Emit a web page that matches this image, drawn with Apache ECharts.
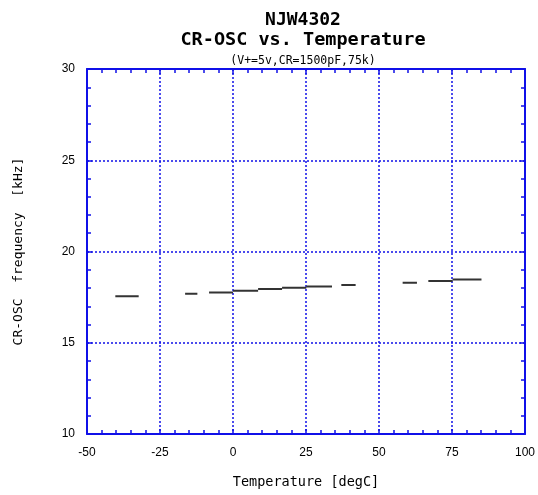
<!DOCTYPE html>
<html><head><meta charset="utf-8">
<script src="https://cdn.jsdelivr.net/npm/echarts@6/dist/echarts.min.js"></script>
<style>html,body{margin:0;padding:0;background:#fff}#c{width:538px;height:495px}</style>
</head><body><div id="c"></div>
<script>
// Measured segments (temperature start/end in degC, frequency in kHz)
var segStart = [-40.3, -16.4, -8.2, 0.0, 8.6, 16.8, 25.1, 37.1, 58.1, 66.9, 75.2];
var segEnd   = [-32.3, -12.2, 0.0, 8.6, 16.8, 25.1, 33.9, 42.0, 63.0, 75.2, 85.1];
var segFreq  = [17.55, 17.69, 17.76, 17.85, 17.95, 18.02, 18.08, 18.16, 18.29, 18.38, 18.46];
var xTicks = [-50, -25, 0, 25, 50, 75, 100];
var yTicks = [10, 15, 20, 25, 30];

var data = [];
for (var i = 0; i < segStart.length; i++) {
  if (i > 0) data.push([null, null]);
  data.push([segStart[i], segFreq[i]]);
  data.push([segEnd[i], segFreq[i]]);
}
var blue = '#1010e8';
var mono = '"DejaVu Sans Mono", monospace';
function axisCommon(showLabel, showSplit) {
  return {
    axisLine: {show: true, onZero: false, lineStyle: {color: blue, width: 2}},
    axisTick: {show: true, inside: true, length: 5, lineStyle: {color: blue, width: 1.5}},
    minorTick: {show: true, splitNumber: 5, length: 4, lineStyle: {color: blue, width: 1.5}},
    splitLine: {show: showSplit, lineStyle: {color: blue, type: [2, 2], width: 1.5}},
    axisLabel: {show: showLabel, color: '#000', fontSize: 12, fontFamily: 'Liberation Sans, Arial, sans-serif'}
  };
}
var x0 = Object.assign({type: 'value', min: xTicks[0], max: xTicks[xTicks.length-1], interval: 25, position: 'bottom',
  name: 'Temperature [degC]', nameLocation: 'middle', nameGap: 41,
  nameTextStyle: {fontFamily: mono, fontSize: 13.5, color: '#000'}}, axisCommon(true, true));
x0.axisLabel.margin = 13;
var x1 = Object.assign({type: 'value', min: xTicks[0], max: xTicks[xTicks.length-1], interval: 25, position: 'top'}, axisCommon(false, false));
var y0 = Object.assign({type: 'value', min: yTicks[0], max: yTicks[yTicks.length-1], interval: 5, position: 'left',
  name: 'CR-OSC  frequency  [kHz]', nameLocation: 'middle', nameGap: 62, nameRotate: 90,
  nameTextStyle: {fontFamily: mono, fontSize: 13, color: '#000'}}, axisCommon(true, true));
y0.axisLabel.margin = 12;
var y1 = Object.assign({type: 'value', min: yTicks[0], max: yTicks[yTicks.length-1], interval: 5, position: 'right'}, axisCommon(false, false));

var chart = echarts.init(document.getElementById('c'), null, {renderer: 'canvas'});
chart.setOption({
  animation: false,
  backgroundColor: '#fff',
  graphic: [
    {type: 'text', x: 303, y: 20, style: {text: 'NJW4302', align: 'center', verticalAlign: 'middle', font: 'bold 18px ' + mono, fill: '#000'}},
    {type: 'text', x: 303, y: 40, style: {text: 'CR-OSC vs. Temperature', align: 'center', verticalAlign: 'middle', font: 'bold 18.5px ' + mono, fill: '#000'}},
    {type: 'text', x: 303, y: 61, style: {text: '(V+=5v,CR=1500pF,75k)', align: 'center', verticalAlign: 'middle', font: '11.5px ' + mono, fill: '#000'}}
  ],
  grid: {left: 87, right: 12, top: 69, bottom: 61},
  xAxis: [x0, x1],
  yAxis: [y0, y1],
  series: [{
    type: 'line', xAxisIndex: 0, yAxisIndex: 0, data: data, showSymbol: false, connectNulls: false,
    lineStyle: {color: '#333', width: 2}
  }]
});
</script></body></html>
